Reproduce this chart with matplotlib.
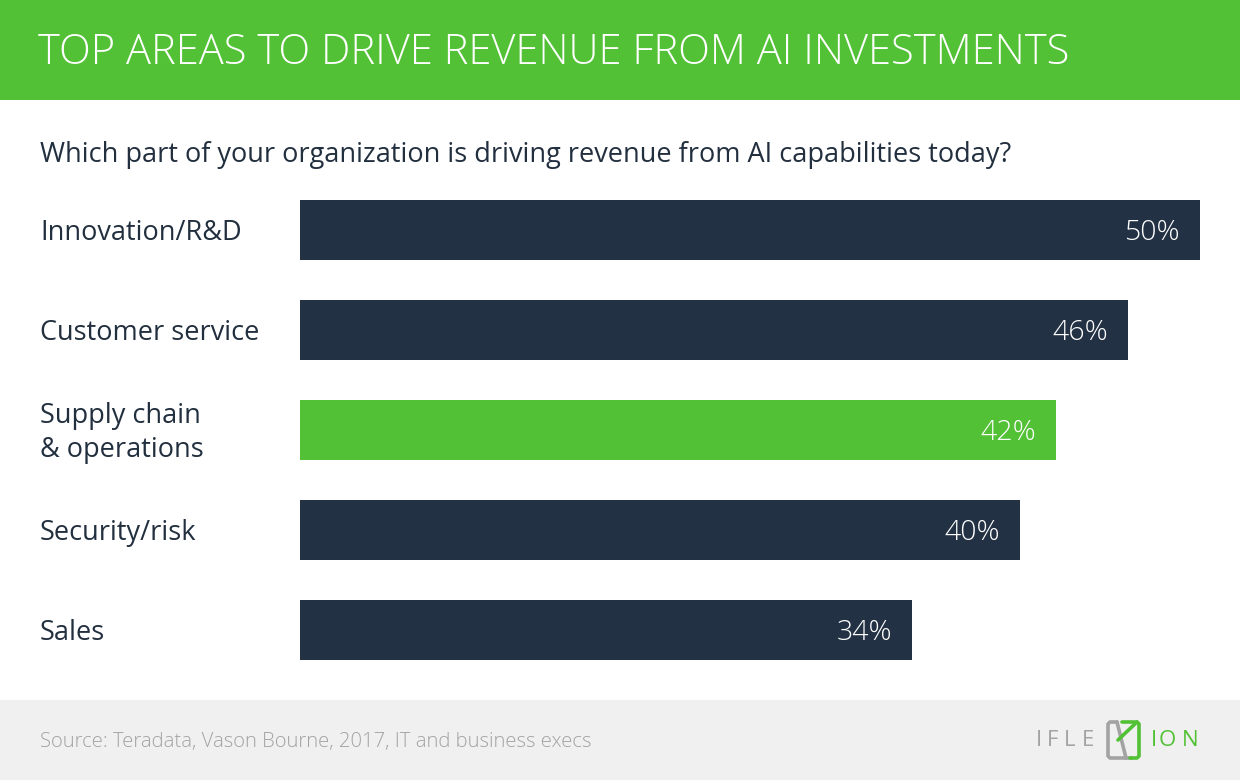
import matplotlib
matplotlib.use("Agg")
import matplotlib.pyplot as plt
from matplotlib.patches import Rectangle
from matplotlib.lines import Line2D

categories = ["Innovation/R&D", "Customer service", "Supply chain\n& operations", "Security/risk", "Sales"]
values = [50, 46, 42, 40, 34]
highlight = [False, False, True, False, False]
value_labels = ["50%", "46%", "42%", "40%", "34%"]

title = "TOP AREAS TO DRIVE REVENUE FROM AI INVESTMENTS"
subtitle = "Which part of your organization is driving revenue from AI capabilities today?"
source = "Source: Teradata, Vason Bourne, 2017, IT and business execs"

GREEN = "#52C135"
DARK = "#223244"
TEXT = "#222F3E"
LOGO_GRAY = "#A3A3A3"
W, H = 1240, 780

plt.rcParams['font.family'] = ['Open Sans', 'DejaVu Sans']
fig = plt.figure(figsize=(W / 100, H / 100), dpi=100)
fig.patch.set_facecolor("white")

def fx(x): return x / W
def fy(y): return 1 - y / H

# header band
fig.patches.append(Rectangle((0, fy(100)), 1, 100 / H, transform=fig.transFigure,
                             facecolor=GREEN, edgecolor="none", zorder=0))
fig.text(fx(38), fy(53), title, color="white", fontsize=30, fontweight="light",
         va="center", ha="left")

# subtitle
fig.text(fx(40), fy(155), subtitle, color=TEXT, fontsize=19.5, va="center", ha="left")

# footer band
fig.patches.append(Rectangle((0, 0), 1, 80 / H, transform=fig.transFigure,
                             facecolor="#F0F0F0", edgecolor="none", zorder=0))
fig.text(fx(40), fy(742), source, color="#A3A3A3", fontsize=14.6, va="center", ha="left",
         fontweight="light")

# logo (decorative)
for ch, x in zip("IFLE", [1036, 1047, 1064, 1082]):
    fig.text(fx(x), fy(741), ch, color=LOGO_GRAY, fontsize=16, va="center", ha="left")
for ch, x in zip("ION", [1151, 1159, 1182]):
    fig.text(fx(x), fy(741), ch, color=GREEN, fontsize=16, va="center", ha="left")
def seg(xs, ys, c):
    fig.lines.append(Line2D([fx(v) for v in xs], [fy(v) for v in ys], transform=fig.transFigure,
                            color=c, linewidth=2.6, solid_capstyle="round", solid_joinstyle="round"))
seg([1117, 1110, 1108, 1108, 1110, 1132], [722, 722, 724, 756, 758, 758], LOGO_GRAY)
seg([1117, 1126], [722, 758], LOGO_GRAY)
seg([1118, 1137, 1139, 1139, 1137, 1130], [740, 722, 724, 756, 758, 758], GREEN)
seg([1122, 1137], [722, 722], GREEN)

# bar chart axes
ax = fig.add_axes([fx(300), fy(660), fx(1200) - fx(300), (660 - 200) / H])
ypos = list(range(len(categories)))
colors = [GREEN if h else DARK for h in highlight]
ax.barh(ypos, values, height=0.6, color=colors, edgecolor="none")
ax.set_xlim(0, 50)
ax.set_ylim(len(categories) - 0.7, -0.3)
ax.axis("off")

for y, v, lab in zip(ypos, values, value_labels):
    ax.annotate(lab, xy=(v, y), xytext=(-20, -3), textcoords="offset pixels",
                color="white", fontsize=20.5, va="center", ha="right", fontweight="light")

for y, cat in zip(ypos, categories):
    ax.annotate(cat, xy=(0, y), xycoords=("axes fraction", "data"),
                xytext=(40 - 300, -3), textcoords="offset pixels",
                color=TEXT, fontsize=19.5, va="center", ha="left", linespacing=1.32)

fig.savefig("out.png", dpi=100)
